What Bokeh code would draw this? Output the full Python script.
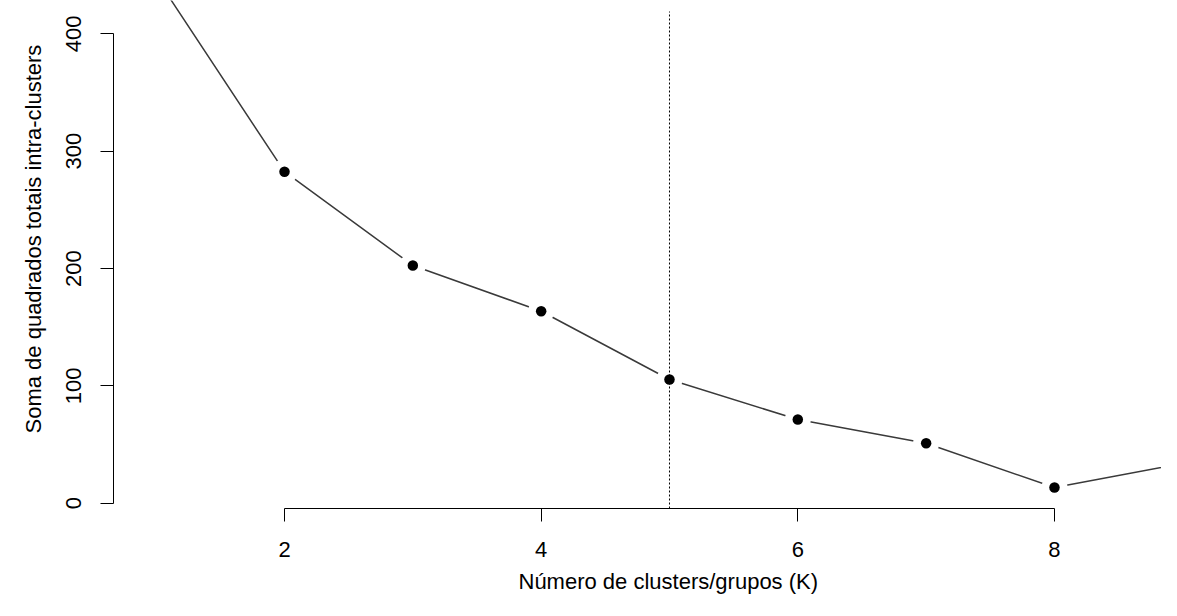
from bokeh.plotting import figure
from bokeh.models import Range1d, FixedTicker, Title, ColumnDataSource
from bokeh.embed import file_html
from bokeh.resources import INLINE

# ---- data ----
k_values = [1, 2, 3, 4, 5, 6, 7, 8, 9]
wss_values = [448.0, 282.5, 202.6, 163.6, 105.4, 71.3, 51.1, 13.4, 34.0]
x_tick_values = [2, 4, 6, 8]
y_tick_values = [0, 100, 200, 300, 400]
k_optimal = 5
vline_top = 419

x_title = "Número de clusters/grupos (K)"
y_title = "Soma de quadrados totais intra-clusters"

FONT = "Liberation Sans"
FS = "22px"

src = ColumnDataSource(dict(k=k_values, wss=wss_values))

y_lo = -4.5
p = figure(width=1161, height=600, output_backend="svg", toolbar_location=None,
           x_range=Range1d(0.6675, 8.834), y_range=Range1d(y_lo, 428.4),
           min_border_left=113, min_border_right=0, min_border_top=0,
           min_border_bottom=92)
p.outline_line_color = None
p.grid.visible = False
p.background_fill_color = "white"
p.border_fill_color = "white"

# connecting line, white masks to create the R type="b" gaps, then points
p.line("k", "wss", source=src, line_color="#3a3a3a", line_width=1.5)
p.scatter("k", "wss", source=src, size=26, fill_color="white", line_color=None)
p.segment(x0=[k_optimal], y0=[y_lo], x1=[k_optimal], y1=[vline_top],
          line_color="black", line_width=1, line_dash="2 2")
p.scatter("k", "wss", source=src, size=10.5, fill_color="black", line_color=None)

# axes
for ax in (p.xaxis[0], p.yaxis[0]):
    ax.axis_line_color = "black"
    ax.axis_line_width = 1
    ax.major_tick_line_color = "black"
    ax.major_tick_line_width = 1
    ax.major_tick_out = 13
    ax.major_tick_in = 0
    ax.minor_tick_line_color = None
    ax.major_label_text_font = FONT
    ax.major_label_text_font_size = FS
    ax.major_label_text_color = "black"

p.xaxis.major_label_standoff = 20
p.yaxis.major_label_standoff = 19
p.xaxis.ticker = FixedTicker(ticks=x_tick_values)
p.yaxis.ticker = FixedTicker(ticks=y_tick_values)
p.xaxis.bounds = (x_tick_values[0], x_tick_values[-1])
p.yaxis.bounds = (y_tick_values[0], y_tick_values[-1])
p.yaxis.major_label_orientation = "vertical"

# axis titles (as panel titles so that they can be placed like R's)
p.add_layout(Title(text=x_title, align="left", offset=405, standoff=14,
                   text_font=FONT, text_font_size=FS, text_font_style="normal",
                   text_color="black"), "below")
p.add_layout(Title(text=y_title, align="left", offset=75, standoff=36,
                   text_font=FONT, text_font_size=FS, text_font_style="normal",
                   text_color="black"), "left")

open("out.html", "w").write(file_html(p, INLINE))
